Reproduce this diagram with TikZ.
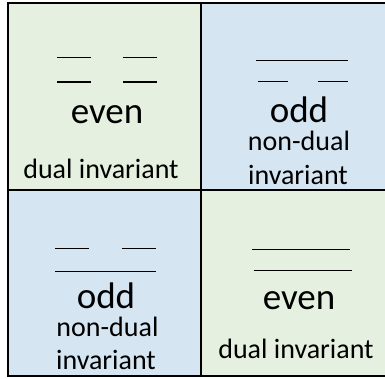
\documentclass[tikz,border=0pt]{standalone}
\usepackage{fontspec}
\setmainfont{Carlito}
\definecolor{cellgreen}{HTML}{E6F0E0}
\definecolor{cellblue}{HTML}{D5E5F2}
\tikzset{
  big/.style={font=\fontsize{37}{40}\selectfont, anchor=base, inner sep=0pt},
  small/.style={font=\fontsize{28}{30}\selectfont, anchor=base, inner sep=0pt},
  level/.style={line width=1.4pt},
  frame/.style={line width=2pt}
}
\begin{document}
\begin{tikzpicture}[x=1pt,y=-1pt]
    \useasboundingbox (0,0) rectangle (385,378);

    % cells
    \fill[cellgreen] (8,2.5) rectangle (200.5,189.5);
    \fill[cellblue] (200.5,2.5) rectangle (392,189.5);
    \fill[cellblue] (8,189.5) rectangle (200.5,376);
    \fill[cellgreen] (200.5,189.5) rectangle (392,376);
    \draw[frame] (8,2.5) rectangle (392,376);
    \draw[frame] (200.5,2.5) -- (200.5,376);
    \draw[frame] (8,189.5) -- (392,189.5);

    % top left
    \draw[level] (57,57.5) -- (91,57.5);
    \draw[level] (123,57.5) -- (157,57.5);
    \draw[level] (57,82) -- (91,82);
    \draw[level] (123,82) -- (157,82);
    \node[big] (evenA) at (107,123) {even};
    \node[small] (dualA) at (101,178) {dual invariant};

    % top right
    \draw[level] (256,60.5) -- (348,60.5);
    \draw[level] (258,81.5) -- (288,81.5);
    \draw[level] (318,81.5) -- (348,81.5);
    \node[big] (oddA) at (299,122.5) {odd};
    \node[small] (nondualA) at (299,150) {non-dual};
    \node[small] (invA) at (298,184) {invariant};

    % bottom left
    \draw[level] (55,248.5) -- (89,248.5);
    \draw[level] (122,248.5) -- (156,248.5);
    \draw[level] (55,271.5) -- (156,271.5);
    \node[big] (oddB) at (106,308) {odd};
    \node[small] (nondualB) at (107.5,336.5) {non-dual};
    \node[small] (invB) at (106,369) {invariant};

    % bottom right
    \draw[level] (252,249.5) -- (350,249.5);
    \draw[level] (253.5,270.5) -- (351.5,270.5);
    \node[big] (evenB) at (299,309) {even};
    \node[small] (dualB) at (296,358) {dual invariant};
\end{tikzpicture}
\end{document}
